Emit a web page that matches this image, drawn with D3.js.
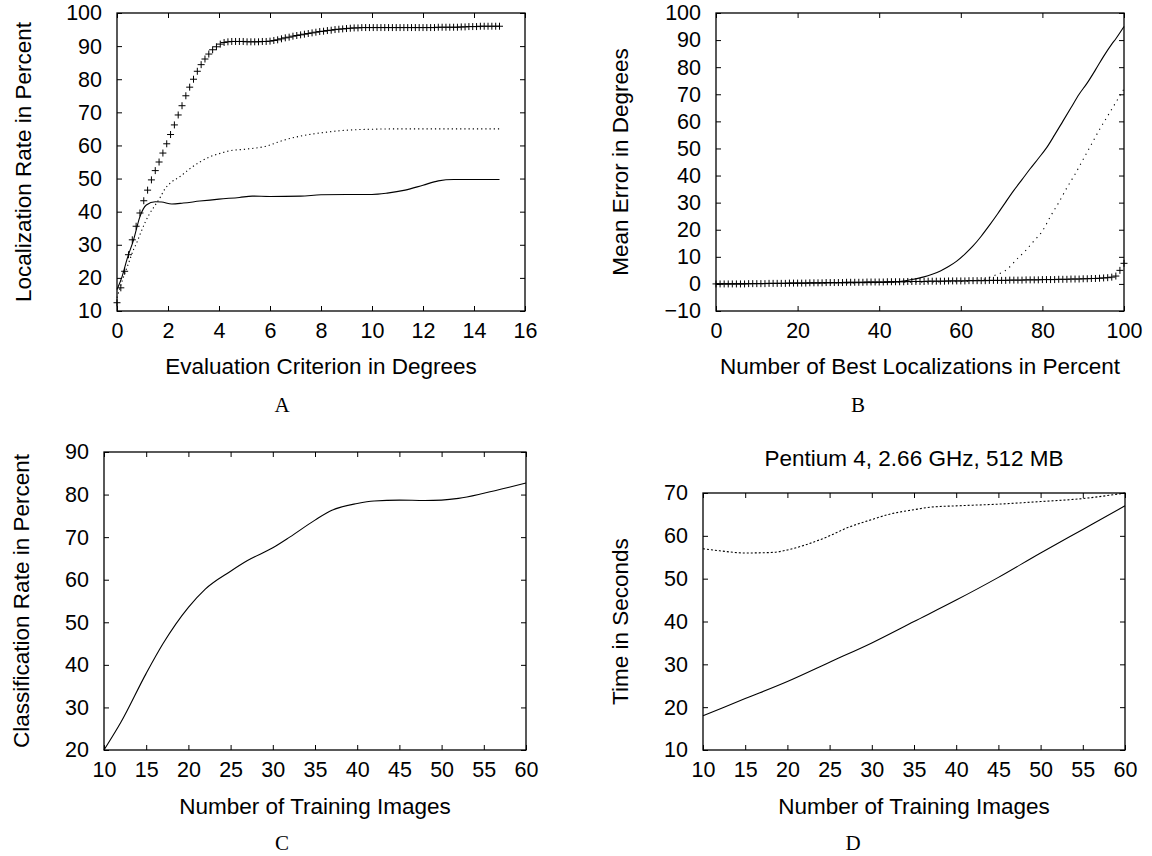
<!DOCTYPE html>
<html>
<head>
<meta charset="utf-8">
<script src="https://cdn.jsdelivr.net/npm/d3@7"></script>
<style>
  body { margin: 0; background: #fff; }
  text { font-family: "Liberation Sans", Arial, sans-serif; font-size: 21.5px; fill: #000; }
  text.ttl { font-size: 22.5px; }
  text.cap { font-family: "Liberation Serif", "Times New Roman", serif; font-size: 21px; }
</style>
</head>
<body>
<svg id="fig" width="1152" height="856"></svg>
<script>
// ---- panel A: localization rate vs evaluation criterion ----
const aStep = 0.15
const aPlus = [12.5,17,22,27,31.5,35.6,39.6,43.3,46.5,49.6,
  52.4,55,57.7,60.5,63.3,66.2,69.2,72,75,77.6,
  80,82.4,84.4,86.1,87.6,88.9,89.8,90.6,91.1,91.3,
  91.4,91.4,91.4,91.4,91.3,91.3,91.3,91.3,91.4,91.4,
  91.5,91.7,91.9,92.2,92.5,92.7,93.0,93.2,93.4,93.6,
  93.8,94.0,94.2,94.4,94.5,94.7,94.8,95.0,95.1,95.2,
  95.3,95.4,95.5,95.5,95.6,95.6,95.6,95.6,95.6,95.6,
  95.6,95.6,95.6,95.6,95.6,95.6,95.6,95.6,95.6,95.6,
  95.6,95.6,95.6,95.6,95.7,95.7,95.7,95.7,95.7,95.7,
  95.8,95.8,95.9,95.9,95.9,96.0,96.0,96.0,96.0,96.0,96.0]
const aSolid = [[0,16.5],[0.2,20.4],[0.4,25.8],[0.65,31.5],[0.9,38.5],[1.15,42],[1.5,43],
  [1.75,42.9],[2.15,42.3],[2.6,42.6],[3.25,43.2],[4,43.8],[4.8,44.3],[5.3,44.7],[6,44.6],
  [7.2,44.7],[8,45.1],[9,45.2],[10,45.2],[10.6,45.6],[11.3,46.5],[12,48],[12.6,49.3],
  [13.2,49.7],[14,49.7],[15,49.7]]
const aDotted = [[0,14],[0.2,19],[0.48,25],[0.63,28.2],[0.8,31.1],[0.95,34],[1.1,36.7],
  [1.25,39],[1.5,42],[1.7,44.4],[1.88,46.9],[2.1,48.7],[2.47,50.6],[2.86,53],[3.25,55],
  [3.65,56.6],[4.04,57.6],[4.43,58.4],[5.08,58.9],[5.86,59.8],[6.5,61.5],[7.18,62.8],
  [8,63.8],[9,64.6],[10,64.9],[11,65],[15,65]]

// ---- panel B: mean error vs number of best localizations ----
const bStep = 1
const bPlus = [0,0,0,0,0,0,0,0,0.1,0.1,
  0.1,0.1,0.1,0.2,0.2,0.2,0.2,0.2,0.3,0.3,
  0.3,0.3,0.3,0.4,0.4,0.4,0.4,0.5,0.5,0.5,
  0.5,0.5,0.6,0.6,0.6,0.6,0.6,0.7,0.7,0.7,
  0.7,0.7,0.8,0.8,0.8,0.8,0.8,0.9,0.9,0.9,
  0.9,0.9,1.0,1.0,1.0,1.0,1.0,1.1,1.1,1.1,
  1.1,1.1,1.2,1.2,1.2,1.2,1.2,1.3,1.3,1.3,
  1.3,1.3,1.4,1.4,1.4,1.4,1.5,1.5,1.5,1.5,
  1.6,1.6,1.6,1.6,1.7,1.7,1.7,1.8,1.8,1.8,
  1.9,1.9,2.0,2.0,2.1,2.2,2.3,2.5,2.9,5.0,7.6]
const bSolid = [[0,0],[40,0.5],[45,0.9],[48,1.6],[51,2.6],[53,3.6],[55,4.8],[57,6.4],
  [59,8.4],[61,11],[63,14],[65,17.6],[67,21.6],[69,25.8],[71,30.2],[73,34.5],[75,38.5],
  [77,42.5],[79,46.3],[81,50.2],[83,55],[85,60],[87,65],[89,70],[91,74.2],[93,79],
  [95,84],[97,88.5],[98,90.5],[100,95]]
const bDotted = [[0,0],[40,0.5],[60,0.9],[65,1.5],[68,3],[71,5],[74,9.5],[76,12.5],[78,16],
  [80,19.5],[82,25],[84,30],[86,35.5],[88,40.5],[90,46],[92,51.5],[94,57],[96,62],[98,67],[100,72]]

// ---- panel C: classification rate vs training images ----
const cSolid = [[10,20],[12,26.5],[15,38],[17,45],[20,53.5],[22,57.8],[25,62],[27,64.5],
  [30,67.5],[32,70],[35,74],[37,76.3],[40,77.9],[42,78.5],[45,78.7],[48,78.6],[50,78.7],
  [52,79.1],[55,80.3],[58,81.7],[60,82.7]]

// ---- panel D: time vs training images ----
const dSolid = [[10,18],[15,22],[20,26],[25,30.5],[30,35],[35,40],[40,45],[45,50.3],
  [50,56],[55,61.5],[60,67]]
const dDotted = [[10,57],[12,56.5],[15,56],[18,56.1],[20,56.7],[22,57.8],[25,60],[27,61.8],
  [30,63.8],[32,65],[35,66.1],[37,66.7],[40,67],[45,67.4],[50,68],[55,68.7],[60,70]]

const svg = d3.select("#fig")

const drawPanel = (p) => {
  const x = d3.scaleLinear().domain(p.xDom).range([p.left, p.right])
  const y = d3.scaleLinear().domain(p.yDom).range([p.bottom, p.top])
  const g = svg.append("g")
  const noDomain = s => s.select(".domain").remove()

  g.append("g").attr("transform", `translate(0,${p.bottom})`)
   .call(d3.axisBottom(x).tickValues(p.xTicks).tickSize(-5).tickPadding(12))
   .call(noDomain)
  g.append("g").attr("transform", `translate(0,${p.top})`)
   .call(d3.axisTop(x).tickValues(p.xTicks).tickSize(-5).tickFormat(""))
   .call(noDomain)
  g.append("g").attr("transform", `translate(${p.left},0)`)
   .call(d3.axisLeft(y).tickValues(p.yTicks).tickSize(-5).tickPadding(15))
   .call(noDomain)
  g.append("g").attr("transform", `translate(${p.right},0)`)
   .call(d3.axisRight(y).tickValues(p.yTicks).tickSize(-5).tickFormat(""))
   .call(noDomain)

  g.append("rect")
   .attr("x", p.left).attr("y", p.top)
   .attr("width", p.right - p.left).attr("height", p.bottom - p.top)
   .attr("fill", "none").attr("stroke", "#000").attr("stroke-width", 1.3)

  const line = d3.line().x(d => x(d[0])).y(d => y(d[1])).curve(d3.curveMonotoneX)

  p.lines.forEach(s => {
    g.append("path").datum(s.data)
     .attr("d", line)
     .attr("fill", "none").attr("stroke", "#000")
     .attr("stroke-width", s.width || 1.1)
     .attr("stroke-dasharray", s.dash || null)
  })

  if (p.plus) {
    g.append("g").selectAll("path")
     .data(p.plus.values)
     .join("path")
     .attr("transform", (d, i) => `translate(${x(i * p.plus.step)},${y(d)})`)
     .attr("d", "M-3.5,0H3.5M0,-3.5V3.5")
     .attr("stroke", "#000").attr("stroke-width", 1)
  }

  const cx = (p.left + p.right) / 2
  g.append("text").attr("class", "ttl").attr("x", cx).attr("y", p.xTitleY)
   .attr("text-anchor", "middle").text(p.xTitle)
  g.append("text").attr("class", "ttl")
   .attr("transform", `translate(${p.yTitleX},${(p.top + p.bottom) / 2}) rotate(-90)`)
   .attr("text-anchor", "middle").attr("dy", "0.35em").text(p.yTitle)
  if (p.title) {
    g.append("text").attr("class", "ttl").attr("x", cx).attr("y", p.titleY)
     .attr("text-anchor", "middle").text(p.title)
  }
  g.append("text").attr("class", "cap")
   .attr("x", p.capX).attr("y", p.capY)
   .attr("text-anchor", "middle").text(p.cap)
}

drawPanel({
  left: 117, right: 525, top: 13, bottom: 311,
  xDom: [0, 16], yDom: [10, 100],
  xTicks: d3.range(0, 17, 2), yTicks: d3.range(10, 101, 10),
  xTitle: "Evaluation Criterion in Degrees", xTitleY: 374,
  yTitle: "Localization Rate in Percent", yTitleX: 23,
  cap: "A", capX: 282, capY: 412,
  lines: [{data: aSolid}, {data: aDotted, dash: "1.2,3"}],
  plus: {values: aPlus, step: aStep}
})

drawPanel({
  left: 716, right: 1124, top: 13, bottom: 311,
  xDom: [0, 100], yDom: [-10, 100],
  xTicks: d3.range(0, 101, 20), yTicks: d3.range(-10, 101, 10),
  xTitle: "Number of Best Localizations in Percent", xTitleY: 374,
  yTitle: "Mean Error in Degrees", yTitleX: 620,
  cap: "B", capX: 858, capY: 412,
  lines: [{data: bSolid}, {data: bDotted, dash: "1.2,4.5"}],
  plus: {values: bPlus, step: bStep}
})

drawPanel({
  left: 104, right: 526, top: 452, bottom: 750,
  xDom: [10, 60], yDom: [20, 90],
  xTicks: d3.range(10, 61, 5), yTicks: d3.range(20, 91, 10),
  xTitle: "Number of Training Images", xTitleY: 814,
  yTitle: "Classification Rate in Percent", yTitleX: 21,
  cap: "C", capX: 282, capY: 850,
  lines: [{data: cSolid}]
})

drawPanel({
  left: 703, right: 1125, top: 493, bottom: 750,
  xDom: [10, 60], yDom: [10, 70],
  xTicks: d3.range(10, 61, 5), yTicks: d3.range(10, 71, 10),
  xTitle: "Number of Training Images", xTitleY: 814,
  yTitle: "Time in Seconds", yTitleX: 620,
  title: "Pentium 4, 2.66 GHz, 512 MB", titleY: 466,
  cap: "D", capX: 853, capY: 850,
  lines: [{data: dSolid}, {data: dDotted, dash: "2,2"}]
})
</script>
</body>
</html>
